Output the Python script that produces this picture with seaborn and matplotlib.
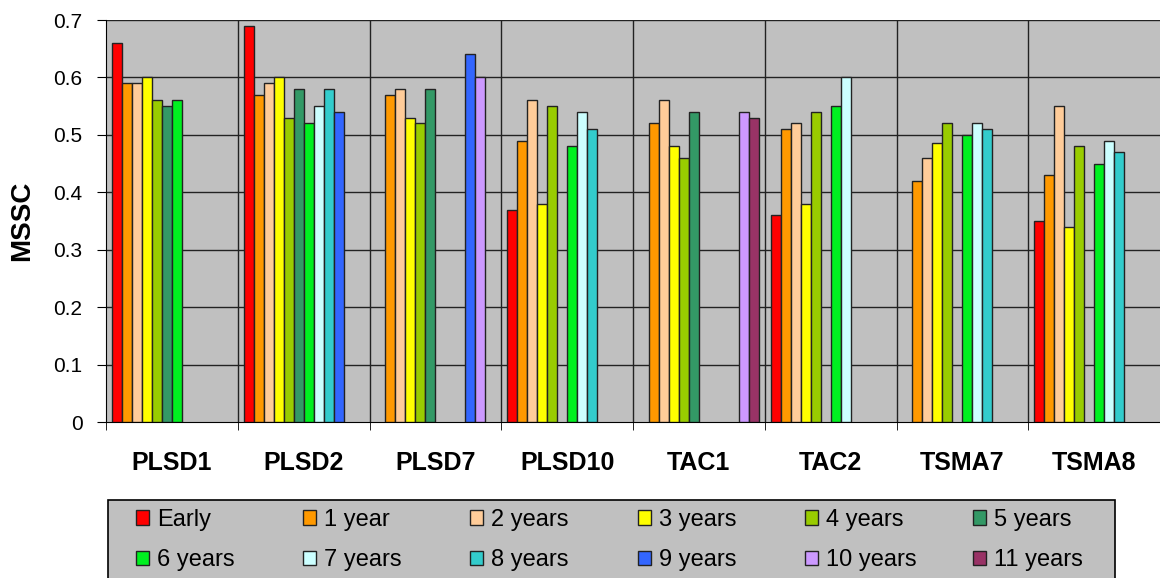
import numpy as np
import pandas as pd
import matplotlib.pyplot as plt
import seaborn as sns
from matplotlib.patches import Rectangle

# chart data (NaN = no bar in that slot)
groups = ["PLSD1", "PLSD2", "PLSD7", "PLSD10", "TAC1", "TAC2", "TSMA7", "TSMA8"]
series = ["Early", "1 year", "2 years", "3 years", "4 years", "5 years",
          "6 years", "7 years", "8 years", "9 years", "10 years", "11 years"]
nan = np.nan
early   = [0.66, 0.69, nan, 0.37, nan, 0.36, nan, 0.35]
year1   = [0.59, 0.57, 0.57, 0.49, 0.52, 0.51, 0.42, 0.43]
year2   = [0.59, 0.59, 0.58, 0.56, 0.56, 0.52, 0.46, 0.55]
year3   = [0.60, 0.60, 0.53, 0.38, 0.48, 0.38, 0.485, 0.34]
year4   = [0.56, 0.53, 0.52, 0.55, 0.46, 0.54, 0.52, 0.48]
year5   = [0.55, 0.58, 0.58, nan, 0.54, nan, nan, nan]
year6   = [0.56, 0.52, nan, 0.48, nan, 0.55, 0.50, 0.45]
year7   = [nan, 0.55, nan, 0.54, nan, 0.60, 0.52, 0.49]
year8   = [nan, 0.58, nan, 0.51, nan, nan, 0.51, 0.47]
year9   = [nan, 0.54, 0.64, nan, nan, nan, nan, nan]
year10  = [nan, nan, 0.60, nan, 0.54, nan, nan, nan]
year11  = [nan, nan, nan, nan, 0.53, nan, nan, nan]

colors = ["#FF0000", "#FF9900", "#FFCC99", "#FFFF00", "#99CC00", "#339966",
          "#00F020", "#CCFFFF", "#33CCCC", "#3366FF", "#CC99FF", "#993366"]

all_vals = [early, year1, year2, year3, year4, year5, year6,
            year7, year8, year9, year10, year11]
rows = []
for name, vals in zip(series, all_vals):
    for g, v in zip(groups, vals):
        rows.append({"group": g, "period": name, "MSSC": v})
df = pd.DataFrame(rows)

plt.rcParams["font.family"] = ["Liberation Sans", "DejaVu Sans"]

W, H = 1160, 578
fig = plt.figure(figsize=(W / 100, H / 100), dpi=100)
ax = fig.add_axes([106 / W, 1 - 422 / H, 1 - 106 / W, 402 / H])
ax.set_facecolor("#C0C0C0")

sns.barplot(data=df, x="group", y="MSSC", hue="period", order=groups,
            hue_order=series, palette=colors, width=0.91, edgecolor="#222222",
            linewidth=1.0, saturation=1, errorbar=None, ax=ax, zorder=3)

ax.set_ylim(0, 0.7)
ax.set_yticks(np.arange(0, 0.71, 0.1))
ax.set_yticklabels(["0", "0.1", "0.2", "0.3", "0.4", "0.5", "0.6", "0.7"], fontsize=15)
ax.set_xlim(-0.5, 7.43)
ax.set_xticks(range(len(groups)))
ax.set_xticklabels(groups, fontsize=18, fontweight="bold")
ax.set_xticks(np.arange(-0.5, 7.6, 1), minor=True)
ax.tick_params(axis="x", which="major", length=0, pad=21)
ax.tick_params(axis="x", which="minor", length=6, color="black")
ax.tick_params(axis="y", length=6.5, color="black", pad=10.5)
ax.set_xlabel("")
ax.set_ylabel("MSSC", fontsize=20, fontweight="bold")
ax.yaxis.set_label_coords(-0.067, 0.5)

for y in np.arange(0.1, 0.71, 0.1):
    ax.axhline(y, color="#222222", linewidth=1.0, zorder=1)
for x in np.arange(0.5, 7.5, 1):
    ax.axvline(x, color="#222222", linewidth=1.0, zorder=1)

for s in ["top", "right"]:
    ax.spines[s].set_visible(False)
ax.spines["left"].set_color("black")
ax.spines["bottom"].set_color("black")

handles, labels = ax.get_legend_handles_labels()
ax.get_legend().remove()

# legend box (gray, black border), runs off the bottom of the figure
fig.patches.append(Rectangle((108 / W, -0.02), (1115 - 108) / W, 1 - 500 / H + 0.02,
                             transform=fig.transFigure, facecolor="#C0C0C0",
                             edgecolor="black", linewidth=1.2, zorder=0))

# six legend columns, filled row by row like the original
col_x = [136, 303, 470, 638, 805, 973]
for c, x0 in enumerate(col_x):
    idx = [c, c + 6]
    fig.legend([handles[i] for i in idx], [labels[i] for i in idx],
               loc="center left", bbox_to_anchor=(x0 / W, 1 - 540 / H),
               fontsize=17, frameon=False, handlelength=0.55, handleheight=0.55,
               handletextpad=0.35, borderpad=0, borderaxespad=0, labelspacing=0.78)

fig.savefig("out.png", dpi=100)
